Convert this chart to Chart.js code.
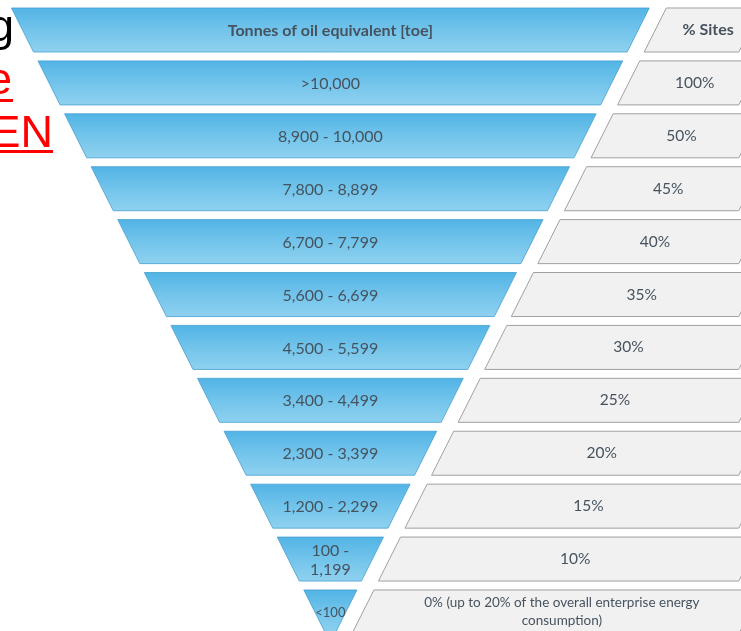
<!DOCTYPE html>
<html>
<head>
<meta charset="utf-8">
<script src="https://cdn.jsdelivr.net/npm/chart.js@4.4.1/dist/chart.umd.min.js"></script>
<style>
  html, body { margin:0; padding:0; background:#fff; }
  #wrap { width:741px; height:631px; position:relative; }
</style>
</head>
<body>
<div id="wrap"><canvas id="funnel"></canvas></div>
<script>
// rows, top to bottom (row 0 is the header)
const rowLabels = ["Tonnes of oil equivalent [toe]", ">10,000", "8,900 - 10,000", "7,800 - 8,899",
  "6,700 - 7,799", "5,600 - 6,699", "4,500 - 5,599", "3,400 - 4,499", "2,300 - 3,399",
  "1,200 - 2,299", "100 -\n1,199", "<100"];
const siteLabels = ["% Sites", "100%", "50%", "45%", "40%", "35%", "30%", "25%", "20%", "15%", "10%",
  "0% (up to 20% of the overall enterprise energy\nconsumption)"];
// half width of each funnel row (at its top edge)
const funnelHalf = [12, 11, 10, 9, 8, 7, 6, 5, 4, 3, 2, 1];

const GRAY_END = 16.2;
const GAP = 17;

const shapes = {
  id: "shapes",
  beforeDatasetDraw(chart, args) {
    const ctx = chart.ctx;
    const xs = chart.scales.x, ys = chart.scales.y;
    const unit = xs.getPixelForValue(1) - xs.getPixelForValue(0);
    const pitch = Math.abs(ys.getPixelForValue(1) - ys.getPixelForValue(0));
    args.meta.data.forEach((bar, i) => {
      const p = bar.getProps(["x", "y", "base", "height"], true);
      const l = Math.min(p.x, p.base), r = Math.max(p.x, p.base);
      const top = p.y - p.height / 2, bot = p.y + p.height / 2;
      const inset = unit * p.height / pitch;
      ctx.save();
      ctx.beginPath();
      if (args.index === 0) {
        ctx.moveTo(l, top); ctx.lineTo(r, top); ctx.lineTo(r - inset, bot); ctx.lineTo(l + inset, bot);
        ctx.closePath();
        const g = ctx.createLinearGradient(0, top, 0, bot);
        g.addColorStop(0, "#52b4e5");
        g.addColorStop(0.5, "#72c4eb");
        g.addColorStop(1, "#8fd1ef");
        ctx.fillStyle = g;
        ctx.fill();
        ctx.strokeStyle = "rgba(70,160,210,0.8)";
        ctx.lineWidth = 1;
        ctx.stroke();
      } else {
        ctx.moveTo(l + GAP, top); ctx.lineTo(r, top); ctx.lineTo(r - inset, bot); ctx.lineTo(l + GAP - inset, bot);
        ctx.closePath();
        ctx.fillStyle = "#f1f1f1";
        ctx.fill();
        ctx.strokeStyle = "#a0a0a0";
        ctx.lineWidth = 1;
        ctx.stroke();
      }
      ctx.restore();
    });
    return false;
  },
  afterDatasetsDraw(chart) {
    const ctx = chart.ctx;
    const xs = chart.scales.x, ys = chart.scales.y;
    const unit = xs.getPixelForValue(1) - xs.getPixelForValue(0);
    const pitch = Math.abs(ys.getPixelForValue(1) - ys.getPixelForValue(0));
    ctx.save();
    ctx.textAlign = "center";
    ctx.textBaseline = "middle";
    ctx.fillStyle = "#46535f";
    chart.getDatasetMeta(0).data.forEach((bar, i) => {
      const p = bar.getProps(["x", "y", "base"], true);
      const cx = (p.x + p.base) / 2;
      ctx.font = i === 0 ? "bold 16px Lato" : (i === 11 ? "13px Lato" : "16px Lato");
      const lines = rowLabels[i].split("\n");
      lines.forEach((t, k) => ctx.fillText(t, cx, p.y + 1 + (k - (lines.length - 1) / 2) * 19));
    });
    chart.getDatasetMeta(1).data.forEach((bar, i) => {
      const p = bar.getProps(["x", "y", "base", "height"], true);
      const inset = unit * p.height / pitch;
      const cx = (p.base + GAP - inset / 2 + p.x) / 2;
      ctx.font = i === 0 ? "bold 16px Lato" : (i === 11 ? "13.5px Lato" : "15.5px Lato");
      const lines = siteLabels[i].split("\n");
      lines.forEach((t, k) => ctx.fillText(t, cx, p.y + (k - (lines.length - 1) / 2) * 18));
    });
    ctx.restore();
  },
  afterDraw(chart) {
    // cropped slide text on the left
    const ctx = chart.ctx;
    ctx.save();
    ctx.font = "45px 'Liberation Sans'";
    ctx.textAlign = "right";
    ctx.textBaseline = "alphabetic";
    ctx.fillStyle = "#000";
    ctx.fillText("g", 14, 41);
    ctx.fillStyle = "#ff0000";
    ctx.fillText("e", 12, 94);
    ctx.fillRect(0, 99, 13, 3);
    ctx.fillText("EN", 53, 147);
    ctx.fillRect(0, 150, 53, 3);
    ctx.restore();
  }
};

new Chart(document.getElementById("funnel"), {
  type: "bar",
  data: {
    datasets: [
      { data: funnelHalf.map((w, i) => ({ y: i, x: [-w, w] })), grouped: false },
      { data: funnelHalf.map((w, i) => ({ y: i, x: [w, GRAY_END] })), grouped: false }
    ]
  },
  options: {
    indexAxis: "y",
    responsive: true,
    maintainAspectRatio: false,
    animation: false,
    categoryPercentage: 1,
    barPercentage: 0.832,
    layout: { padding: 0 },
    plugins: { legend: { display: false }, tooltip: { enabled: false } },
    scales: {
      x: { type: "linear", min: -12.43, max: 15.45, display: false },
      y: {
        type: "linear", reverse: true, min: -0.567, max: 11.36, display: false, offset: false,
        afterBuildTicks: s => { s.ticks = rowLabels.map((_, i) => ({ value: i })); }
      }
    }
  },
  plugins: [shapes]
});
</script>
</body>
</html>
